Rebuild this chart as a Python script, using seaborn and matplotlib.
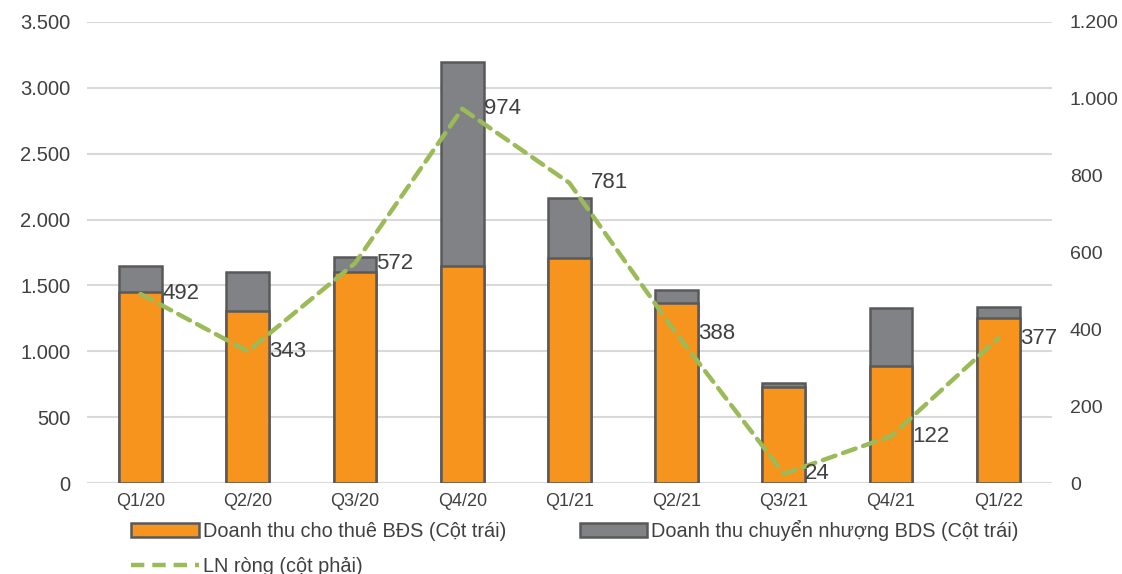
import matplotlib
matplotlib.use("Agg")
import matplotlib.pyplot as plt
from matplotlib.ticker import FuncFormatter, MultipleLocator
from matplotlib.patches import Patch
from matplotlib.lines import Line2D
import numpy as np
import pandas as pd
import seaborn as sns

# quarters and values
quarters = ["Q1/20", "Q2/20", "Q3/20", "Q4/20", "Q1/21", "Q2/21", "Q3/21", "Q4/21", "Q1/22"]
rent_rev = [1450, 1305, 1605, 1645, 1710, 1370, 728, 888, 1250]        # Doanh thu cho thuê BĐS
transfer_rev = [200, 300, 110, 1550, 455, 95, 30, 440, 85]             # Doanh thu chuyển nhượng BDS
net_profit = [492, 343, 572, 974, 781, 388, 24, 122, 377]              # LN ròng

ORANGE = "#F7941D"
GRAY = "#808285"
EDGE = "#595959"
GREEN = "#9BBB59"
TEXT = "#404040"


def vn_fmt(v, pos):
    return f"{int(round(v)):,}".replace(",", ".")


def main():
    df = pd.DataFrame({"quarter": quarters, "rent": rent_rev, "transfer": transfer_rev})
    df["total"] = df["rent"] + df["transfer"]

    sns.set_style("white")
    plt.rcParams["font.family"] = ["Liberation Sans", "DejaVu Sans"]

    fig = plt.figure(figsize=(11.22, 5.74), dpi=100)
    ax = fig.add_axes([0.0775, 0.1585, 0.86, 0.8032])

    # stacked bars: total (gray) first, then the rental part over it
    sns.barplot(data=df, x="quarter", y="total", color=GRAY, saturation=1, width=0.4,
                edgecolor=EDGE, linewidth=1.8, ax=ax, zorder=2)
    sns.barplot(data=df, x="quarter", y="rent", color=ORANGE, saturation=1, width=0.4,
                edgecolor=EDGE, linewidth=1.8, ax=ax, zorder=3)

    ax.set_ylim(0, 3500)
    ax.set_xlim(-0.5, len(quarters) - 0.5)
    ax.yaxis.set_major_locator(MultipleLocator(500))
    ax.yaxis.set_major_formatter(FuncFormatter(vn_fmt))
    ax.grid(axis="y", color="#D9D9D9", linewidth=1.5, zorder=0)
    ax.set_axisbelow(True)
    ax.set_xlabel("")
    ax.set_ylabel("")
    for s in ax.spines.values():
        s.set_visible(False)
    ax.tick_params(axis="both", length=0, colors=TEXT)
    ax.tick_params(axis="y", pad=12, labelsize=14.5)
    ax.tick_params(axis="x", pad=7, labelsize=13)

    # net profit on the right axis
    ax2 = ax.twinx()
    x = np.arange(len(quarters))
    sns.lineplot(x=x, y=net_profit, ax=ax2, color=GREEN, linewidth=3.2,
                 dashes=False, zorder=4)
    ax2.lines[0].set_dashes([3, 1.8])
    ax2.lines[0].set_dash_capstyle("round")
    ax2.set_ylim(0, 1200)
    ax2.yaxis.set_major_locator(MultipleLocator(200))
    ax2.yaxis.set_major_formatter(FuncFormatter(vn_fmt))
    ax2.grid(False)
    for s in ax2.spines.values():
        s.set_visible(False)
    ax2.tick_params(axis="y", length=0, labelsize=14, colors=TEXT, pad=13)
    ax2.set_ylabel("")

    for xi, v in zip(x, net_profit):
        ax2.text(xi + 0.2, v, vn_fmt(v, None), ha="left", va="center",
                 fontsize=16, color=TEXT, zorder=5)

    handles = [
        Patch(facecolor=ORANGE, edgecolor=EDGE, linewidth=1.8),
        Line2D([0], [0], color=GREEN, linewidth=3.2, dashes=[3, 1.8]),
        Patch(facecolor=GRAY, edgecolor=EDGE, linewidth=1.8),
    ]
    labels = ["Doanh thu cho thuê BĐS (Cột trái)", "LN ròng (cột phải)",
              "Doanh thu chuyển nhượng BDS (Cột trái)"]
    leg = fig.legend(handles, labels, ncol=2, loc="upper left",
                     bbox_to_anchor=(0.117, 0.094), frameon=False, fontsize=14.3,
                     handlelength=3.4, handleheight=0.7, handletextpad=0.2,
                     columnspacing=3.7, labelspacing=0.8, borderaxespad=0,
                     borderpad=0)
    for t in leg.get_texts():
        t.set_color(TEXT)

    fig.savefig("out.png", dpi=100)


if __name__ == "__main__":
    main()
